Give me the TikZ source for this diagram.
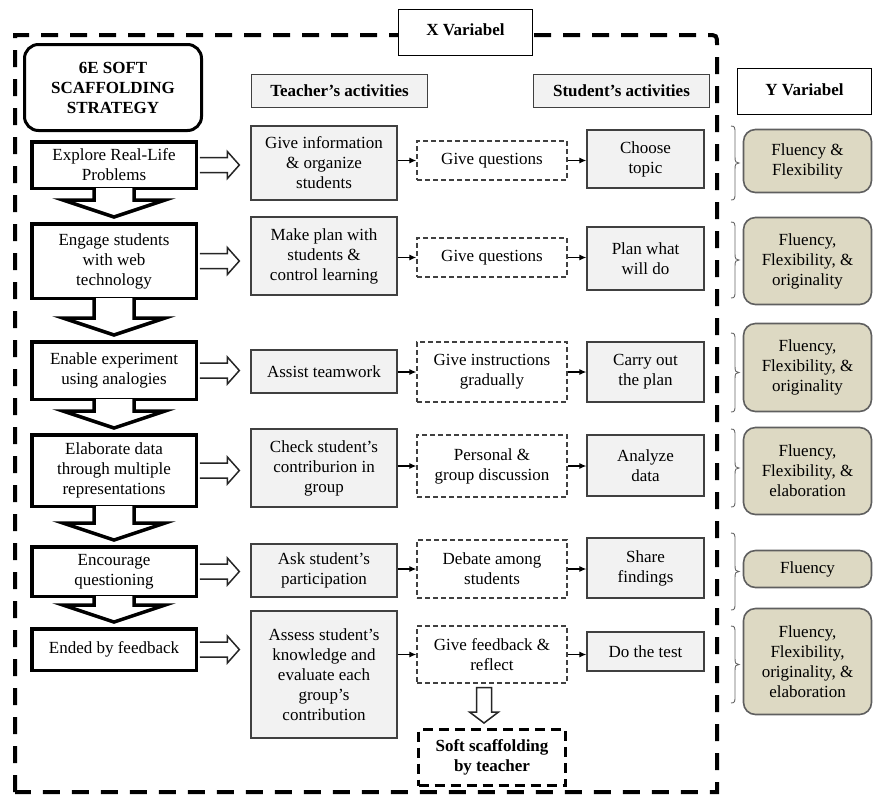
\documentclass[tikz,border=0pt]{standalone}
\usepackage{fontspec}
\setmainfont{Liberation Serif}
\usetikzlibrary{arrows.meta,calc}
\definecolor{greyfill}{HTML}{F2F2F2}
\definecolor{boxline}{HTML}{404040}
\definecolor{tanfill}{HTML}{DDD9C3}
\definecolor{tanline}{HTML}{5F5F5F}
\newcommand\fs{\fontsize{17}{20}\selectfont}
\newcommand\RArrow[2]{%
  \draw[rarr] let \p1=(#1.east), \p2=(#2.west) in
    (\x1+1.75pt,\y1+7.5pt) -- (\x2-23pt,\y1+7.5pt) -- (\x2-23pt,\y1+13.5pt) -- (\x2-11pt,\y1)
    -- (\x2-23pt,\y1-13.5pt) -- (\x2-23pt,\y1-7.5pt) -- (\x1+1.75pt,\y1-7.5pt);}
\newcommand\DArrow[2]{%
  \draw[darr] let \p1=(#1.south), \p2=(#2.north) in
    (\x1-20pt,\y1+2pt) -- (\x1-20pt,\y2+22pt) -- (\x1-51pt,\y2+22pt) -- (\x1,\y2+5pt)
    -- (\x1+51pt,\y2+22pt) -- (\x1+20pt,\y2+22pt) -- (\x1+20pt,\y1+2pt);}
% right-pointing curly brace from (x,top) to (x,bottom), tip to the right
\newcommand\RBrace[3]{%
  \draw[curly] (#1,#2) .. controls (#1+4,#2) and (#1+4,#2+2) .. (#1+4,#2+7)
    -- (#1+4,{(#2+#3)/2-6}) .. controls (#1+4,{(#2+#3)/2-1}) and (#1+5,{(#2+#3)/2}) .. (#1+8,{(#2+#3)/2})
    .. controls (#1+5,{(#2+#3)/2}) and (#1+4,{(#2+#3)/2+1}) .. (#1+4,{(#2+#3)/2+6})
    -- (#1+4,#3-7) .. controls (#1+4,#3-2) and (#1+4,#3) .. (#1,#3);}
\begin{document}
\begin{tikzpicture}[x=1pt,y=-1pt,
  every node/.style={font=\fs, inner sep=0pt, align=center},
  bold/.style={font=\fs\bfseries},
  lbox/.style={draw=black, line width=3.5pt, fill=white, minimum width=164.5pt},
  tbox/.style={draw=boxline, line width=1.3pt, fill=greyfill, minimum width=146pt},
  mbox/.style={draw=boxline, line width=1.3pt, dash pattern=on 5pt off 3pt, fill=white, minimum width=150pt},
  sbox/.style={draw=boxline, line width=1.3pt, fill=greyfill, minimum width=117pt},
  ybox/.style={draw=tanline, line width=1.6pt, fill=tanfill, rounded corners=12pt, minimum width=128pt},
  hbox/.style={draw=black, line width=1.3pt, fill=white, minimum width=134pt, minimum height=46pt, bold},
  rarr/.style={draw=black!85, line width=1.5pt, fill=white, line join=miter},
  darr/.style={draw=black, line width=3.5pt, fill=white, line join=miter},
  sarr/.style={draw=black, line width=1.2pt, -{Latex[length=7pt,width=6pt]}},
  curly/.style={draw=black!60, line width=0.9pt},
  outerdash/.style={draw=black, line width=4pt, dash pattern=on 17pt off 12pt}]
\useasboundingbox (0,0) rectangle (874,796);

% outer X frame
\draw[outerdash] (15,792) -- (15,35) -- (707,35) .. controls (717,35) .. (717,45) -- (717,792) -- cycle;

% headers
\node[hbox] (xv) at (465.5,32.5) {\raisebox{5pt}{X Variabel}};
\node[hbox] (yv) at (804.5,91.5) {\raisebox{4pt}{Y Variabel}};
\node[draw=black, line width=3pt, rounded corners=14pt, fill=white, minimum width=177pt, minimum height=86pt, bold] (six) at (113,87.5) {6E SOFT\\SCAFFOLDING\\STRATEGY};
\node[tbox, bold, minimum width=176pt, minimum height=33pt] (th) at (339.5,91) {Teacher's activities};
\node[sbox, bold, minimum width=176pt, minimum height=33pt] (sh) at (621.5,91) {Student's activities};

% left column
\node[lbox, minimum height=46.5pt] (l1) at (114,165) {Explore Real-Life\\Problems};
\node[lbox, minimum height=74.5pt] (l2) at (114,261) {Engage students\\with web\\technology};
\node[lbox, minimum height=57.5pt] (l3) at (114,370.5) {Enable experiment\\using analogies};
\node[lbox, minimum height=71.5pt] (l4) at (114,470.5) {Elaborate data\\through multiple\\representations};
\node[lbox, minimum height=49.5pt] (l5) at (114,571.5) {Encourage\\questioning};
\node[lbox, minimum height=41.5pt] (l6) at (114,649.5) {Ended by feedback};

\DArrow{l1}{l2}
\DArrow{l2}{l3}
\DArrow{l3}{l4}
\DArrow{l4}{l5}
\DArrow{l5}{l6}

% teacher
\node[tbox, minimum height=74pt] (t1) at (324,163) {Give information\\\& organize\\students};
\node[tbox, minimum height=78pt] (t2) at (324,256) {Make plan with\\students \&\\control learning};
\node[tbox, minimum height=43pt] (t3) at (324,371.5) {Assist teamwork};
\node[tbox, minimum height=78pt] (t4) at (324,468) {Check student's\\contriburion in\\group};
\node[tbox, minimum height=53pt] (t5) at (324,570.5) {Ask student's\\participation};
\node[tbox, minimum height=127pt] (t6) at (324,674.5) {Assess student's\\knowledge and\\evaluate each\\group's\\contribution};

\RArrow{l1}{t1}
\RArrow{l2}{t2}
\RArrow{l3}{t3}
\RArrow{l4}{t4}
\RArrow{l5}{t5}
\RArrow{l6}{t6}

% middle (dashed)
\node[mbox, minimum height=39pt] (m1) at (492,160.5) {Give questions};
\node[mbox, minimum height=39pt] (m2) at (492,257.5) {Give questions};
\node[mbox, minimum height=60pt] (m3) at (492,372) {Give instructions\\gradually};
\node[mbox, minimum height=62pt] (m4) at (492,466) {Personal \&\\group discussion};
\node[mbox, minimum height=58pt] (m5) at (492,569) {Debate among\\students};
\node[mbox, minimum height=57pt] (m6) at (492,654.5) {Give feedback \&\\reflect};

% students
\node[sbox, minimum height=58pt] (s1) at (645.5,159) {Choose\\topic};
\node[sbox, minimum height=63pt] (s2) at (645.5,258.5) {Plan what\\will do};
\node[sbox, minimum height=60pt] (s3) at (645.5,372) {Carry out\\the plan};
\node[sbox, minimum height=61pt] (s4) at (645.5,465.5) {Analyze\\data};
\node[sbox, minimum height=60pt] (s5) at (645.5,568) {Share\\findings};
\node[sbox, minimum height=39pt] (s6) at (645.5,651.5) {Do the test};

\foreach \i in {1,...,6}{
  \draw[sarr] (t\i.east |- m\i.west) -- (m\i.west);
  \draw[sarr] (m\i.east) -- (m\i.east -| s\i.west);
}

% soft scaffolding
\node[draw=black, line width=3pt, dash pattern=on 10pt off 6pt, fill=white, minimum width=147pt, minimum height=56pt, bold] (soft) at (492,757.5) {Soft scaffolding\\by teacher};
\draw[rarr] let \p1=(m6.south), \p2=(soft.north) in
  (\x1-15.5pt,\y1-4pt) -- (\x1-15.5pt,\y2+16pt) -- (\x1-22.5pt,\y2+16pt) -- (\x1-8pt,\y2+5pt)
  -- (\x1+6.5pt,\y2+16pt) -- (\x1-0.5pt,\y2+16pt) -- (\x1-0.5pt,\y1-4pt) -- cycle;

% Y variables
\node[ybox, minimum height=63pt] (y1) at (807.5,161) {Fluency \&\\Flexibility};
\node[ybox, minimum height=87pt] (y2) at (807.5,261) {Fluency,\\Flexibility, \&\\originality};
\node[ybox, minimum height=88pt] (y3) at (807.5,367.5) {Fluency,\\Flexibility, \&\\originality};
\node[ybox, minimum height=87pt] (y4) at (807.5,471) {Fluency,\\Flexibility, \&\\elaboration};
\node[ybox, minimum height=37pt] (y5) at (807.5,569) {Fluency};
\node[ybox, minimum height=106pt] (y6) at (807.5,661.5) {Fluency,\\Flexibility,\\originality, \&\\elaboration};

% braces
\RBrace{731}{126}{200}
\RBrace{731}{222}{298}
\RBrace{731}{333}{412}
\RBrace{731}{429}{507}
\RBrace{731}{533}{610}
\RBrace{731}{626}{703}
\end{tikzpicture}
\end{document}
